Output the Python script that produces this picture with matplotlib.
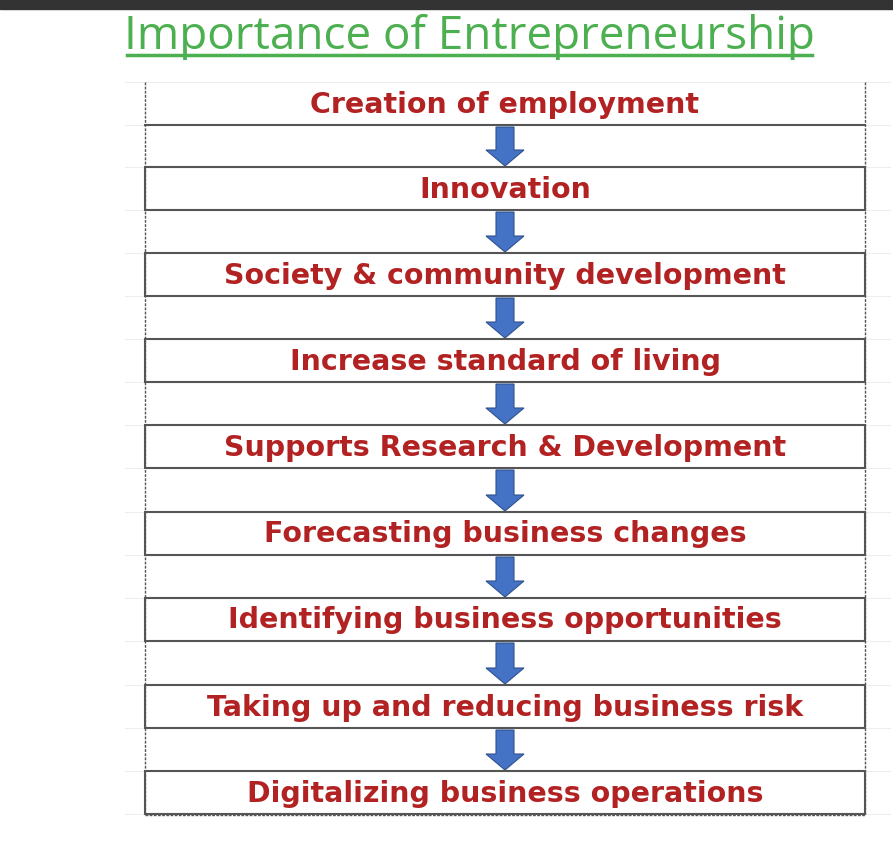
import matplotlib.pyplot as plt
from matplotlib.patches import Rectangle, FancyArrow

labels = ['Creation of employment', 'Innovation', 'Society & community development',
          'Increase standard of living', 'Supports Research & Development',
          'Forecasting business changes', 'Identifying business opportunities',
          'Taking up and reducing business risk', 'Digitalizing business operations']
box_tops = [82, 167, 253, 339, 425, 512, 598, 685, 771]
box_h = 43

fig = plt.figure(figsize=(8.93, 8.57), dpi=100)
ax = fig.add_axes([0, 0, 1, 1])
ax.set_xlim(0, 893)
ax.set_ylim(857, 0)
ax.axis('off')

# dark strip on top
ax.add_patch(Rectangle((0, 0), 893, 9, color='#333333'))

# title
ax.text(469, 49, 'Importance of Entrepreneurship', color='#4CAF50', fontsize=33,
        family='Open Sans', ha='center', va='baseline')
ax.plot([127, 812], [55, 55], color='#4CAF50', lw=2.5)

# faint background lines
for t in box_tops:
    for y in (t, t + box_h):
        ax.plot([125, 890], [y, y], color='#eeeeee', lw=0.8, zorder=0)

# dashed side lines
ax.plot([145, 145], [82, 815], color='#555555', lw=1, ls=(0, (2, 1)))
ax.plot([865, 865], [82, 815], color='#555555', lw=1, ls=(0, (2, 1)))

for i, (lab, t) in enumerate(zip(labels, box_tops)):
    if i == 0:
        ax.plot([145, 865], [t + box_h, t + box_h], color='#555555', lw=1.5)
    else:
        ax.add_patch(Rectangle((145, t), 720, box_h, fill=False, ec='#555555', lw=1.5))
    ax.text(505, t + box_h / 2 + 1, lab, color='#B22222', fontsize=20.5, fontweight='bold',
            family='DejaVu Sans', ha='center', va='center')
    if i < len(labels) - 1:
        y0 = t + box_h + 2
        y1 = box_tops[i + 1] - 1
        ax.add_patch(FancyArrow(505, y0, 0, y1 - y0, width=18, head_width=38,
                                head_length=16, length_includes_head=True,
                                fc='#4472C4', ec='#2F528F', lw=0.8))

ax.plot([145, 865], [815, 815], color='#555555', lw=1, ls=(0, (2, 1)))

fig.savefig('out.png', dpi=100)
